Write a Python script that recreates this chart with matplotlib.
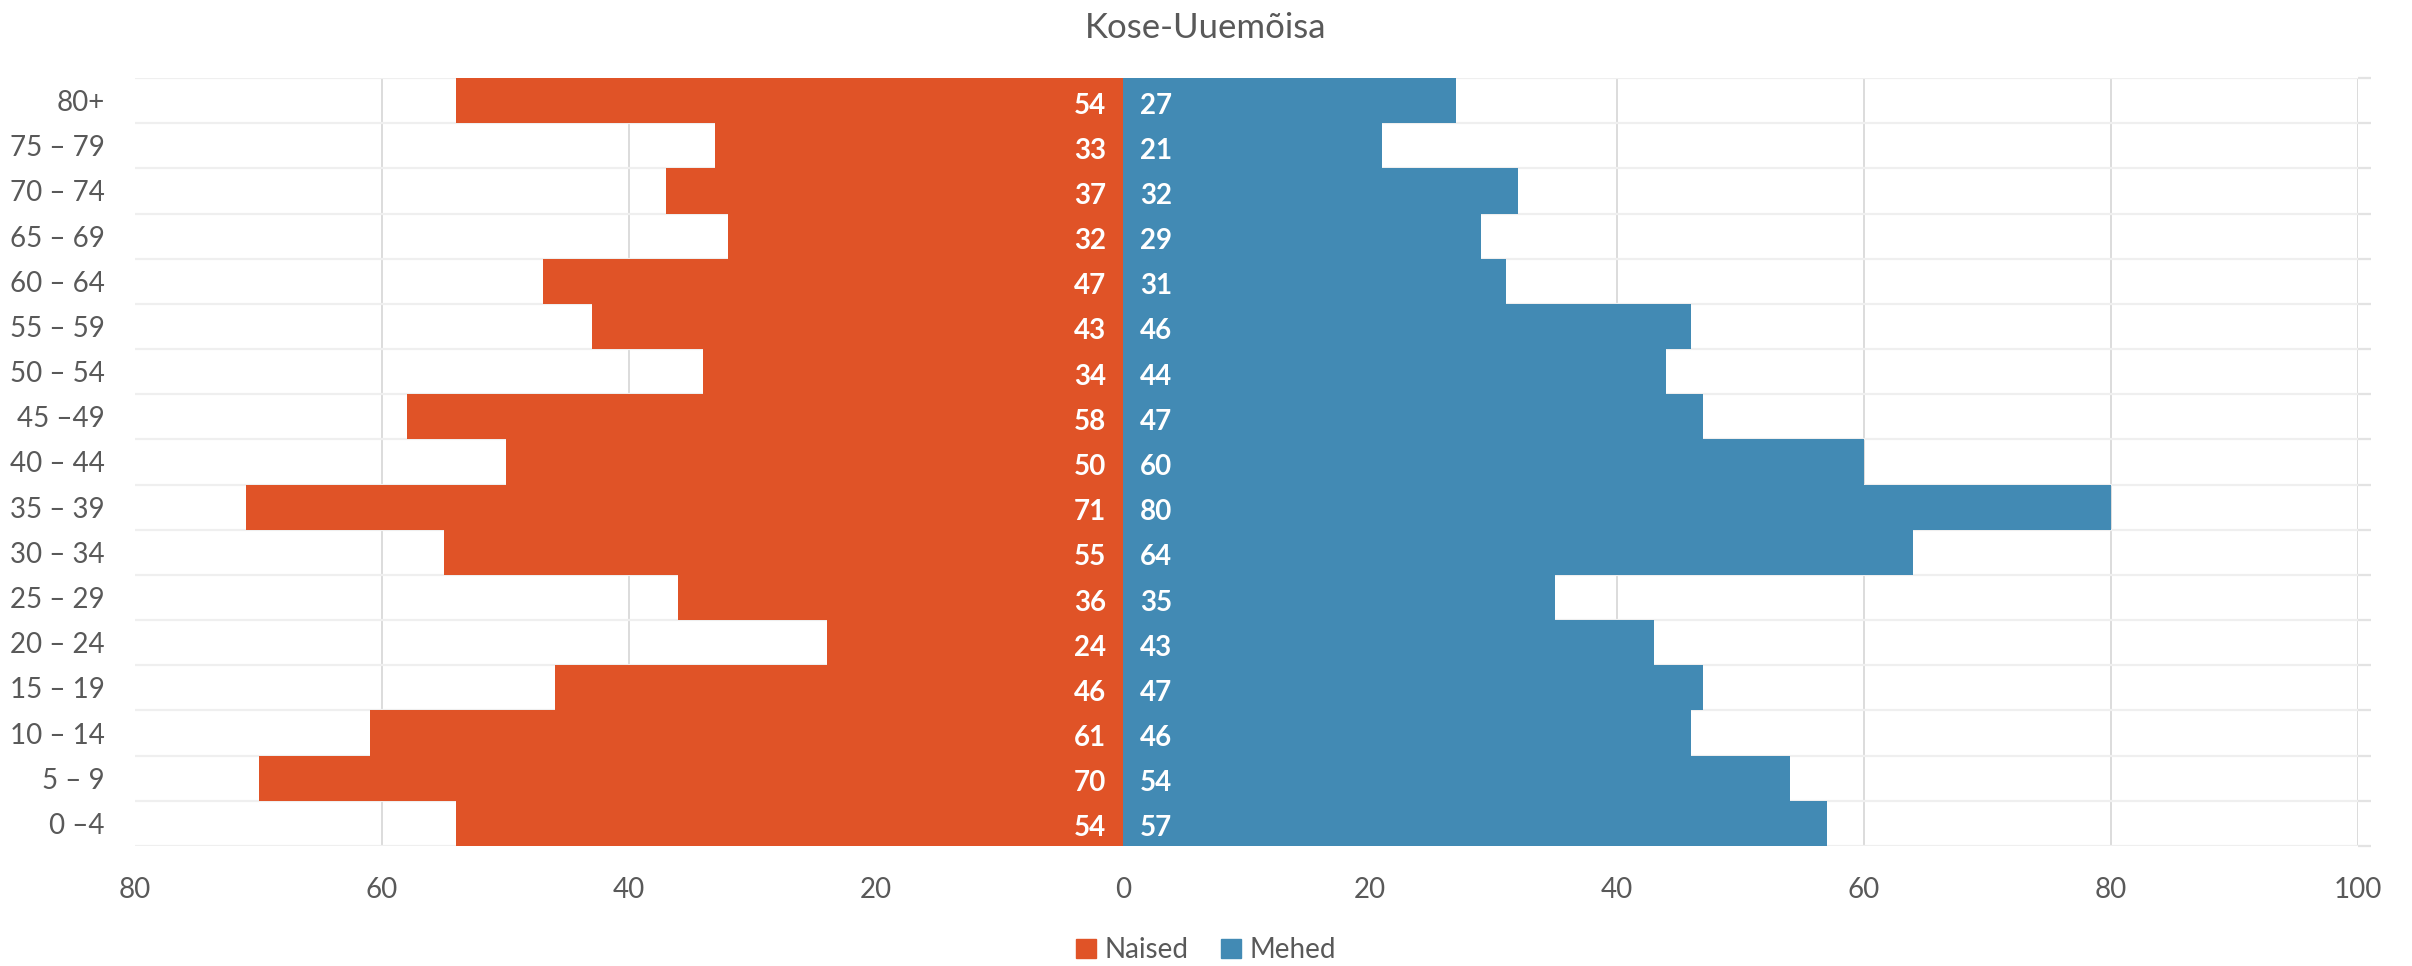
import matplotlib
matplotlib.use("Agg")
import matplotlib.pyplot as plt
from matplotlib.patches import Patch
import numpy as np

categories = ["0 –4", "5 – 9", "10 – 14", "15 – 19", "20 – 24", "25 – 29", "30 – 34",
              "35 – 39", "40 – 44", "45 –49", "50 – 54", "55 – 59", "60 – 64",
              "65 – 69", "70 – 74", "75 – 79", "80+"]
naised = [54, 70, 61, 46, 24, 36, 55, 71, 50, 58, 34, 43, 47, 32, 37, 33, 54]
mehed = [57, 54, 46, 47, 43, 35, 64, 80, 60, 47, 44, 46, 31, 29, 32, 21, 27]
xticks = [-80, -60, -40, -20, 0, 20, 40, 60, 80, 100]
title = "Kose-Uuemõisa"

ORANGE = "#E05327"
BLUE = "#428AB4"
TXT = "#595959"

plt.rcParams['font.family'] = ['Lato', 'DejaVu Sans']

fig = plt.figure(figsize=(24.12, 9.66), dpi=100)
ax = fig.add_axes([135/2412, 1-846/966, (2358-135)/2412, (846-78)/966])

y = np.arange(len(categories))
ax.barh(y, [-v for v in naised], height=1.0, color=ORANGE, zorder=3, label="Naised")
ax.barh(y, mehed, height=1.0, color=BLUE, zorder=3, label="Mehed")

ax.set_xlim(-80, 100)
ax.set_ylim(-0.5, len(categories) - 0.5)

# grid lines
for xv in xticks:
    if xv in (-80, 0):
        continue
    ax.axvline(xv, color="#d9d9d9", lw=1.3, zorder=1)
for k in range(len(categories) + 1):
    ax.axhline(k - 0.5, color="#efefef", lw=1.6, zorder=1)

ax.set_xticks(xticks)
ax.set_xticklabels([str(abs(v)) for v in xticks], fontsize=20, color=TXT)
ax.set_yticks(y)
ax.set_yticklabels(categories, fontsize=20, color=TXT)
ax.tick_params(axis='x', length=0, pad=22)
ax.tick_params(axis='y', length=0, pad=22)

# right-side minor ticks at row boundaries
ax2 = ax.twinx()
ax2.set_ylim(ax.get_ylim())
ax2.set_yticks(np.arange(len(categories) + 1) - 0.5)
ax2.set_yticklabels([])
ax2.tick_params(axis='y', length=9, width=1.6, color="#e3e3e3")
for a in (ax, ax2):
    for s in a.spines.values():
        s.set_visible(False)

# data labels
for yi, v in zip(y, naised):
    ax.annotate(str(v), (0, yi), xytext=(-17, -5), textcoords="offset pixels",
                ha="right", va="center", color="white", fontsize=20, fontweight="bold", zorder=5)
for yi, v in zip(y, mehed):
    ax.annotate(str(v), (0, yi), xytext=(17, -5), textcoords="offset pixels",
                ha="left", va="center", color="white", fontsize=20, fontweight="bold", zorder=5)

fig.text(0.5, 1 - 28/966, title, ha="center", va="center", fontsize=25,
         color=TXT, fontweight="normal")

handles = [Patch(color=ORANGE, label="Naised"), Patch(color=BLUE, label="Mehed")]
fig.legend(handles=handles, loc="center", bbox_to_anchor=(0.5, 1 - 950/966), ncol=2,
           frameon=False, fontsize=20, handlelength=0.7, handleheight=0.7,
           handletextpad=0.3, columnspacing=1.2, labelcolor=TXT)

fig.savefig("out.png", dpi=100)
